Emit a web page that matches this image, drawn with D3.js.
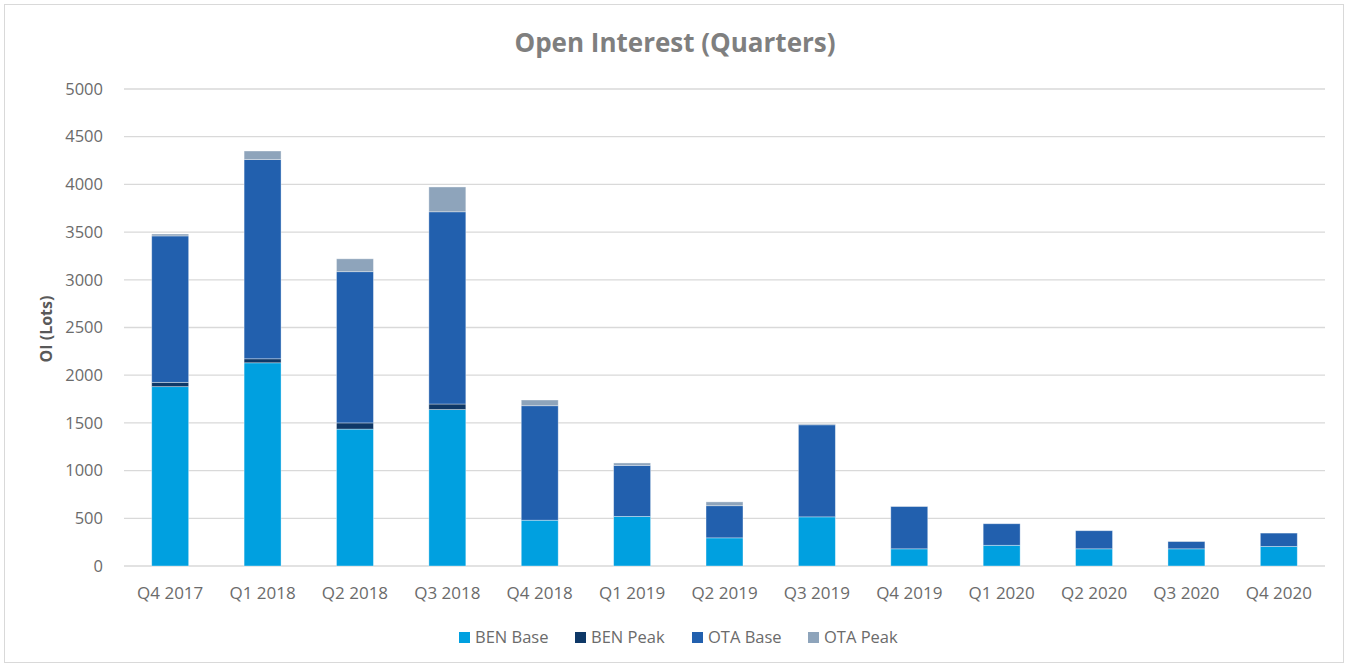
<!DOCTYPE html>
<html>
<head>
<meta charset="utf-8">
<script src="https://cdn.jsdelivr.net/npm/d3@7"></script>
<style>
  html, body { margin: 0; padding: 0; background: #fff; }
  svg text { font-family: "Open Sans", "Noto Sans", sans-serif; }
</style>
</head>
<body>
<svg id="chart" width="1350" height="666"></svg>
<script>
// quarters on the x axis
const quarters = ["Q4 2017", "Q1 2018", "Q2 2018", "Q3 2018", "Q4 2018", "Q1 2019",
  "Q2 2019", "Q3 2019", "Q4 2019", "Q1 2020", "Q2 2020", "Q3 2020", "Q4 2020"];

// series values (lots)
const benBase = [1880, 2130, 1435, 1640, 480, 520, 295, 515, 180, 217, 180, 180, 205];
const benPeak = [45, 42, 65, 58, 0, 0, 0, 0, 0, 0, 0, 0, 0];
const otaBase = [1535, 2088, 1585, 2015, 1200, 535, 337, 965, 445, 226, 190, 78, 140];
const otaPeak = [20, 90, 135, 260, 60, 25, 40, 10, 3, 0, 0, 3, 0];

const seriesNames = ["BEN Base", "BEN Peak", "OTA Base", "OTA Peak"];
const seriesColors = ["#00a0e0", "#0e3867", "#2260ae", "#8ea4bb"];
const yTicks = [0, 500, 1000, 1500, 2000, 2500, 3000, 3500, 4000, 4500, 5000];

const rows = quarters.map((q, i) => ({
  q: q,
  "BEN Base": benBase[i],
  "BEN Peak": benPeak[i],
  "OTA Base": otaBase[i],
  "OTA Peak": otaPeak[i],
}));

const svg = d3.select("#chart");
const W = 1350, H = 666;
const m = { left: 124, right: 25, top: 89, bottom: 100 };
const textColor = "#6b6b6b";

// outer frame
svg.append("rect")
  .attr("x", 4.5).attr("y", 4.5)
  .attr("width", 1339).attr("height", 658)
  .attr("fill", "#fff")
  .attr("stroke", "#d9d9d9")
  .attr("stroke-width", 1);

const x = d3.scaleBand()
  .domain(quarters)
  .range([m.left, W - m.right])
  .paddingInner(0.6)
  .paddingOuter(0.3);

const y = d3.scaleLinear()
  .domain([0, 5000])
  .range([H - m.bottom, m.top]);

// gridlines
svg.append("g")
  .selectAll("line")
  .data(yTicks)
  .join("line")
  .attr("x1", m.left)
  .attr("x2", W - m.right)
  .attr("y1", (d) => y(d))
  .attr("y2", (d) => y(d))
  .attr("stroke", "#d9d9d9")
  .attr("stroke-width", 1.3);

// y tick labels
svg.append("g")
  .selectAll("text")
  .data(yTicks)
  .join("text")
  .attr("x", 103)
  .attr("y", (d) => y(d))
  .attr("dy", "0.35em")
  .attr("text-anchor", "end")
  .attr("fill", textColor)
  .attr("font-size", 16.5)
  .text((d) => d);

// stacked bars
const stack = d3.stack().keys(seriesNames);
const layers = stack(rows);

svg.append("g")
  .selectAll("g")
  .data(layers)
  .join("g")
  .attr("fill", (d, i) => seriesColors[i])
  .selectAll("rect")
  .data((d) => d)
  .join("rect")
  .attr("x", (d) => x(d.data.q))
  .attr("width", x.bandwidth())
  .attr("y", (d) => y(d[1]))
  .attr("height", (d) => Math.max(0, y(d[0]) - y(d[1])))
  .attr("stroke", "#ffffff")
  .attr("stroke-opacity", 0.45)
  .attr("stroke-width", 0.8);

// x labels
svg.append("g")
  .selectAll("text")
  .data(quarters)
  .join("text")
  .attr("x", (d) => x(d) + x.bandwidth() / 2)
  .attr("y", 593)
  .attr("dy", "0.35em")
  .attr("text-anchor", "middle")
  .attr("fill", textColor)
  .attr("font-size", 17)
  .text((d) => d);

// title
svg.append("text")
  .attr("x", 675)
  .attr("y", 43)
  .attr("dy", "0.35em")
  .attr("text-anchor", "middle")
  .attr("fill", "#7f7f7f")
  .attr("font-size", 26)
  .attr("font-weight", "bold")
  .text("Open Interest (Quarters)");

// y axis title
svg.append("text")
  .attr("transform", "translate(46,329) rotate(-90)")
  .attr("dy", "0.35em")
  .attr("text-anchor", "middle")
  .attr("fill", "#595959")
  .attr("font-size", 16)
  .attr("font-weight", "bold")
  .text("OI (Lots)");

// legend
const legendX = [459, 575, 692, 808];
const legend = svg.append("g")
  .selectAll("g")
  .data(seriesNames)
  .join("g")
  .attr("transform", (d, i) => `translate(${legendX[i]},637)`);

legend.append("rect")
  .attr("x", 0)
  .attr("y", -5)
  .attr("width", 11)
  .attr("height", 11)
  .attr("fill", (d, i) => seriesColors[i]);

legend.append("text")
  .attr("x", 16)
  .attr("y", 0)
  .attr("dy", "0.35em")
  .attr("fill", textColor)
  .attr("font-size", 16.5)
  .text((d) => d);
</script>
</body>
</html>
